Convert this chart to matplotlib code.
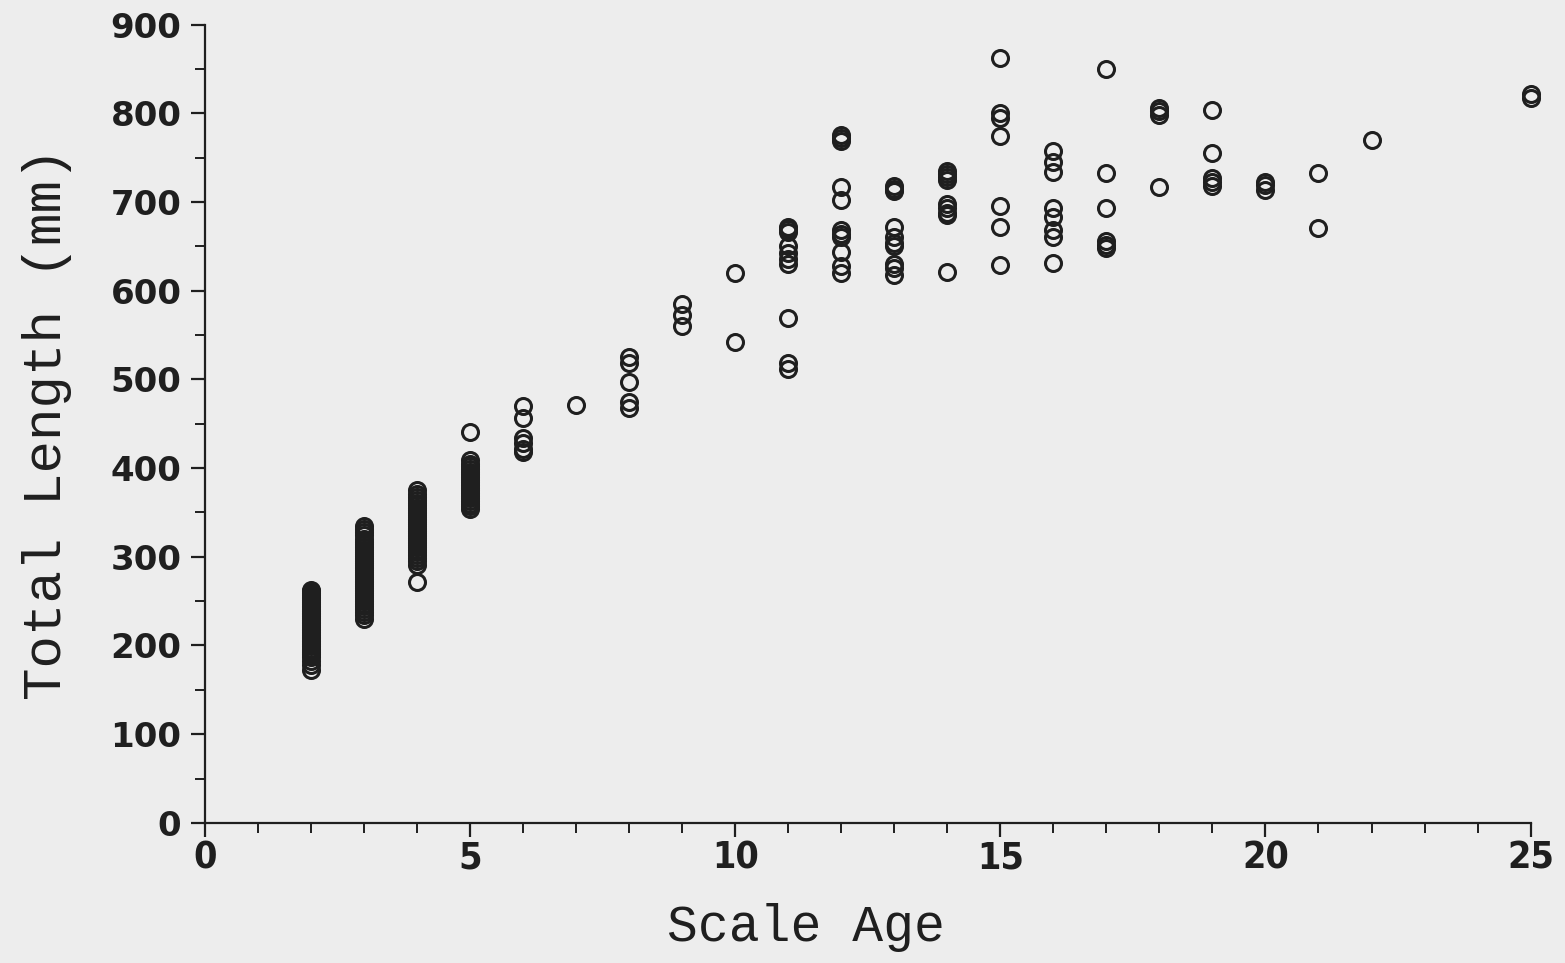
import matplotlib
matplotlib.use("Agg")
import matplotlib.pyplot as plt
from matplotlib.ticker import MultipleLocator

# Total length (mm) observed at each scale age
age_2 = [172, 178, 183, 187, 190, 193, 196, 199, 202, 205, 208, 210, 212, 215, 217, 219,
         221, 223, 225, 227, 229, 231, 233, 235, 237, 239, 241, 243, 245, 247, 249, 251,
         253, 255, 257, 259, 261, 263]
age_3 = [230, 234, 238, 241, 244, 247, 250, 252, 255, 257, 259, 261, 263, 265, 267, 269,
         271, 273, 275, 277, 279, 281, 283, 285, 287, 289, 291, 293, 295, 297, 299, 301,
         303, 305, 308, 311, 314, 317, 320, 324, 328, 331, 335]
age_4 = [272, 291, 295, 299, 302, 305, 308, 311, 313, 315, 317, 319, 321, 323, 325, 327,
         329, 331, 333, 335, 337, 339, 341, 343, 345, 347, 349, 351, 353, 355, 358, 361,
         364, 367, 371, 375]
age_5 = [354, 357, 360, 363, 366, 369, 372, 375, 378, 381, 384, 387, 390, 393, 396, 399,
         402, 405, 409, 441]
age_6 = [470, 457, 434, 428, 422, 418]
age_7 = [471]
age_8 = [525, 519, 497, 475, 468]
age_9 = [585, 573, 560]
age_10 = [620, 542]
age_11 = [672, 670, 666, 650, 642, 636, 630, 569, 518, 512]
age_12 = [775, 772, 769, 717, 702, 668, 664, 660, 644, 628, 620]
age_13 = [718, 715, 712, 672, 660, 654, 650, 630, 625, 618]
age_14 = [735, 731, 728, 725, 698, 693, 688, 685, 621]
age_15 = [862, 800, 795, 774, 695, 672, 629]
age_16 = [757, 745, 734, 693, 683, 668, 660, 631]
age_17 = [850, 733, 693, 656, 652, 648]
age_18 = [806, 802, 798, 717]
age_19 = [804, 755, 727, 722, 718]
age_20 = [723, 719, 714]
age_21 = [733, 671]
age_22 = [770]
age_25 = [822, 817]

groups = {2: age_2, 3: age_3, 4: age_4, 5: age_5, 6: age_6, 7: age_7, 8: age_8,
          9: age_9, 10: age_10, 11: age_11, 12: age_12, 13: age_13, 14: age_14,
          15: age_15, 16: age_16, 17: age_17, 18: age_18, 19: age_19, 20: age_20,
          21: age_21, 22: age_22, 25: age_25}

x_ticks = [0, 5, 10, 15, 20, 25]
y_ticks = [0, 100, 200, 300, 400, 500, 600, 700, 800, 900]

xs, ys = [], []
for a, vals in groups.items():
    xs.extend([a] * len(vals))
    ys.extend(vals)

BG = "#ededed"
INK = "#1f1f1f"

fig = plt.figure(figsize=(15.65, 9.63), dpi=100, facecolor=BG)
ax = fig.add_axes([0.131, 0.1455, 0.847, 0.829], facecolor=BG)

ax.plot(xs, ys, linestyle="none", marker="o", markersize=11.5,
        markerfacecolor="none", markeredgecolor=INK, markeredgewidth=2.2,
        clip_on=False)

ax.set_xlim(0, 25)
ax.set_ylim(0, 900)
ax.set_xticks(x_ticks)
ax.set_yticks(y_ticks)
ax.xaxis.set_minor_locator(MultipleLocator(1))
ax.yaxis.set_minor_locator(MultipleLocator(50))

for s in ("top", "right"):
    ax.spines[s].set_visible(False)
for s in ("left", "bottom"):
    ax.spines[s].set_linewidth(1.6)
    ax.spines[s].set_color(INK)

ax.tick_params(which="major", direction="out", length=10, width=1.6, color=INK,
               labelcolor=INK)
ax.tick_params(axis="y", which="major", pad=7)
ax.tick_params(axis="x", which="major", pad=3)
ax.tick_params(which="minor", direction="out", length=7.5, width=1.4, color=INK)

ytick_font = dict(family="DejaVu Sans", weight="bold", size=24.5)
xtick_font = dict(family="DejaVu Sans", weight="bold", stretch="condensed", size=27)
ax.set_xticklabels([str(t) for t in x_ticks], fontdict=xtick_font)
ax.set_yticklabels([str(t) for t in y_ticks], fontdict=ytick_font)

ax.set_xlabel("Scale Age", fontdict=dict(family="Liberation Mono", size=37, color=INK))
ax.set_ylabel("Total Length (mm)", fontdict=dict(family="Liberation Mono", size=39, color=INK))
ax.xaxis.set_label_coords(0.453, -0.1)
ax.yaxis.set_label_coords(-0.1, 0.5)

fig.savefig("out.png", dpi=100, facecolor=BG)
